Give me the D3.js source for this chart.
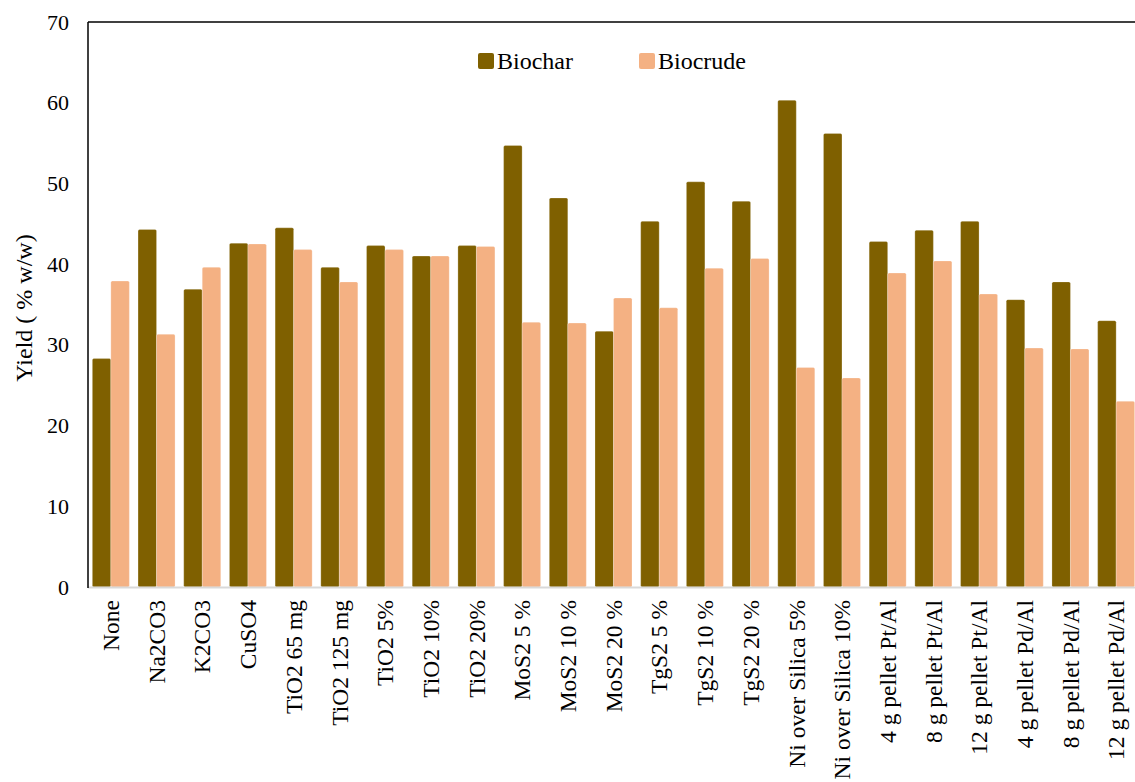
<!DOCTYPE html>
<html>
<head>
<meta charset="utf-8">
<script src="https://cdn.jsdelivr.net/npm/d3@7"></script>
<style>
  body { margin: 0; background: #fff; }
  svg text { font-family: "Liberation Serif", "Times New Roman", serif !important; fill: #000; font-weight: normal; }
</style>
</head>
<body>
<svg id="chart" width="1135" height="782"></svg>
<script>
// catalysts on the x axis
const categories = ["None", "Na2CO3", "K2CO3", "CuSO4", "TiO2 65 mg", "TiO2 125 mg", "TiO2 5%",
    "TiO2 10%", "TiO2 20%", "MoS2 5 %", "MoS2 10 %", "MoS2 20 %", "TgS2 5 %", "TgS2 10 %",
    "TgS2 20 %", "Ni over Silica 5%", "Ni over Silica 10%", "4 g pellet Pt/Al", "8 g pellet Pt/Al",
    "12 g pellet Pt/Al", "4 g pellet Pd/Al", "8 g pellet Pd/Al", "12 g pellet Pd/Al"];

const biochar = [28.3, 44.3, 36.9, 42.6, 44.5, 39.6, 42.3, 41.0, 42.3, 54.7, 48.2, 31.7,
    45.3, 50.2, 47.8, 60.3, 56.2, 42.8, 44.2, 45.3, 35.6, 37.8, 33.0];
const biocrude = [37.9, 31.3, 39.6, 42.5, 41.8, 37.8, 41.8, 41.0, 42.2, 32.8, 32.7, 35.8,
    34.6, 39.5, 40.7, 27.2, 25.9, 38.9, 40.4, 36.3, 29.6, 29.5, 23.0];

const seriesNames = ["Biochar", "Biocrude"];
const yTicks = [0, 10, 20, 30, 40, 50, 60, 70];

const colors = {"Biochar": "#7f6000", "Biocrude": "#f4b183"};
const serif = '"Liberation Serif", "Times New Roman", serif';

const svg = d3.select("#chart");
const plotLeft = 88, plotRight = 1139, plotTop = 22, plotBottom = 587;

const x = d3.scaleBand()
    .domain(categories)
    .range([plotLeft, plotRight])
    .paddingInner(0.19)
    .paddingOuter(0.095);

const xs = d3.scaleBand()
    .domain(seriesNames)
    .range([0, x.bandwidth()])
    .padding(0);

const y = d3.scaleLinear()
    .domain([0, 70])
    .range([plotBottom, plotTop]);

// rows for the bars
const rows = categories.map((c, i) => ({cat: c, Biochar: biochar[i], Biocrude: biocrude[i]}));

const groups = svg.append("g")
    .selectAll("g")
    .data(rows)
    .join("g")
    .attr("transform", d => "translate(" + x(d.cat) + ",0)");

groups.selectAll("rect")
    .data(d => seriesNames.map(s => ({key: s, value: d[s]})))
    .join("rect")
    .attr("x", d => xs(d.key))
    .attr("y", d => y(d.value))
    .attr("width", xs.bandwidth())
    .attr("height", d => y(0) - y(d.value))
    .attr("rx", 1.5)
    .attr("fill", d => colors[d.key])
    .attr("stroke", "#fff")
    .attr("stroke-opacity", 0.4)
    .attr("stroke-width", 0.6);

// bottom axis line (light gray)
svg.append("line")
    .attr("x1", plotLeft).attr("x2", 1135)
    .attr("y1", plotBottom + 0.5).attr("y2", plotBottom + 0.5)
    .attr("stroke", "#d9d9d9")
    .attr("stroke-width", 2);

// frame: left and top lines
svg.append("line")
    .attr("x1", plotLeft).attr("x2", plotLeft)
    .attr("y1", plotTop).attr("y2", plotBottom + 1)
    .attr("stroke", "#000").attr("stroke-width", 1.5);
svg.append("line")
    .attr("x1", plotLeft).attr("x2", 1135)
    .attr("y1", plotTop).attr("y2", plotTop)
    .attr("stroke", "#000").attr("stroke-width", 1.5);

// y axis labels
const yAxis = d3.axisLeft(y).tickValues(yTicks).tickSize(0).tickPadding(19);
const yg = svg.append("g")
    .attr("transform", "translate(" + plotLeft + ",0)")
    .attr("font-family", serif)
    .call(yAxis);
yg.select(".domain").remove();
yg.selectAll("text")
    .style("font-family", serif)
    .attr("font-size", 22)
    .attr("fill", "#000");

// x axis labels, rotated
const xAxis = d3.axisBottom(x).tickSize(0).tickPadding(0);
const xg = svg.append("g")
    .attr("transform", "translate(0," + plotBottom + ")")
    .call(xAxis);
xg.attr("font-family", serif);
xg.select(".domain").remove();
xg.selectAll("text")
    .style("font-family", serif)
    .attr("font-size", 23.5)
    .attr("fill", "#000")
    .attr("transform", "rotate(-90)")
    .attr("text-anchor", "end")
    .attr("x", -13)
    .attr("y", 0)
    .attr("dy", "0.35em");

// y axis title
svg.append("text")
    .attr("transform", "translate(24,308) rotate(-90)")
    .attr("text-anchor", "middle")
    .attr("dy", "0.35em")
    .style("font-family", serif)
    .attr("font-size", 24)
    .text("Yield ( % w/w)");

// legend
const legend = svg.append("g")
    .selectAll("g")
    .data(seriesNames)
    .join("g")
    .attr("transform", (d, i) => "translate(" + (478 + i * 161) + ",53)");
legend.append("rect")
    .attr("width", 16).attr("height", 16).attr("rx", 2)
    .attr("fill", d => colors[d]);
legend.append("text")
    .attr("x", 19).attr("y", 16)
    .style("font-family", serif)
    .attr("font-size", 24)
    .text(d => d);
</script>
</body>
</html>
